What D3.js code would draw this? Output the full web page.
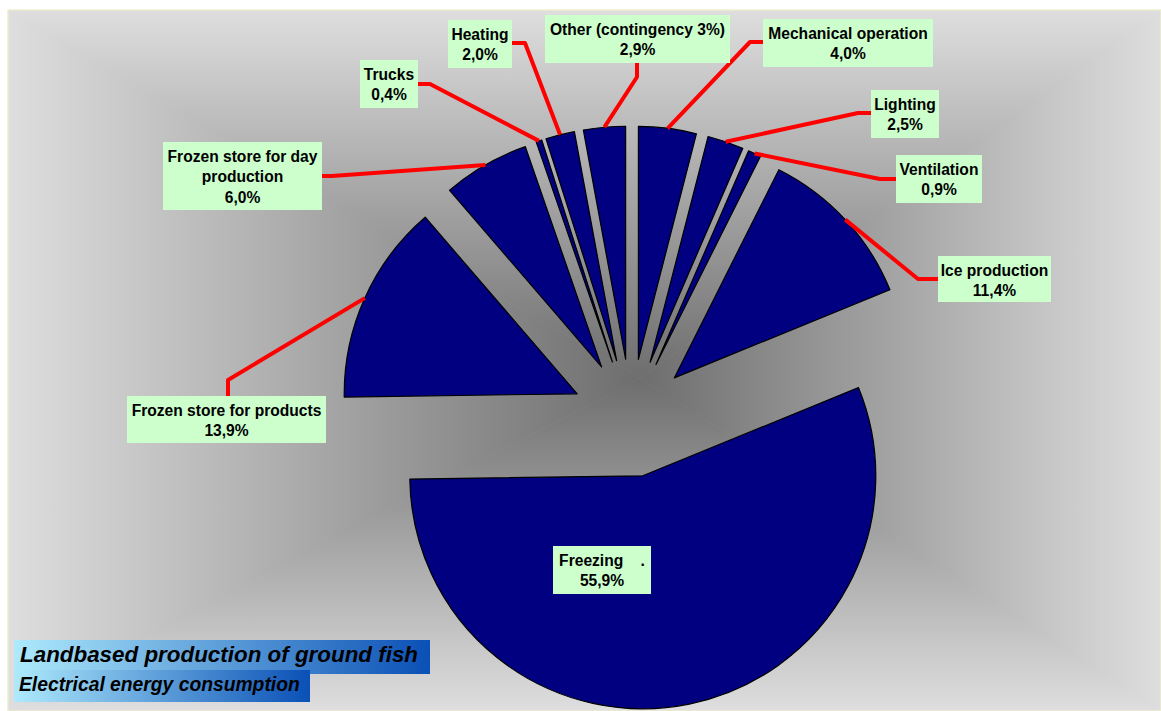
<!DOCTYPE html>
<html><head><meta charset="utf-8">
<script src="https://cdn.jsdelivr.net/npm/d3@7"></script>
<style>body{margin:0;background:#fff}svg{display:block}text{font-family:"Liberation Sans",Arial,sans-serif}</style>
</head><body><svg id="c" width="1161" height="711"></svg>
<script>
// ---- data ----
const categories = ["Mechanical operation","Lighting","Ventilation","Ice production","Freezing","Frozen store for products","Frozen store for day production","Trucks","Heating","Other (contingency 3%)"];
const values = [4.0, 2.5, 0.9, 11.4, 55.9, 13.9, 6.0, 0.4, 2.0, 2.9];
const titleMain = "Landbased production of ground fish";
const titleSub = "Electrical energy consumption";

// ---- layout ----
const svg = d3.select("#c");
const defs = svg.append("defs");
const plot = {x0: 8, y0: 10, x1: 1161, y1: 711};
const gc = [640, 378];
function lg(id, x1, y1, x2, y2, stops) {
  const g = defs.append("linearGradient").attr("id", id).attr("gradientUnits", "userSpaceOnUse")
    .attr("x1", x1).attr("y1", y1).attr("x2", x2).attr("y2", y2);
  stops.forEach(s => g.append("stop").attr("offset", s[0]).attr("stop-color", s[1]));
}
const bgStops = [[0, "#dedede"], [1, "#6e6e6e"]];
lg("gT", 0, plot.y0, 0, gc[1], bgStops);
lg("gB", 0, plot.y1, 0, gc[1], bgStops);
lg("gL", plot.x0, 0, gc[0], 0, bgStops);
lg("gR", plot.x1, 0, gc[0], 0, bgStops);
const tris = [
  ["gT", [[plot.x0, plot.y0], [plot.x1, plot.y0], gc]],
  ["gB", [[plot.x0, plot.y1], [plot.x1, plot.y1], gc]],
  ["gL", [[plot.x0, plot.y0], [plot.x0, plot.y1], gc]],
  ["gR", [[plot.x1, plot.y0], [plot.x1, plot.y1], gc]]
];
svg.append("g").selectAll("path").data(tris).join("path")
  .attr("d", d => "M" + d[1].map(p => p.join(",")).join("L") + "Z")
  .attr("fill", d => `url(#${d[0]})`).attr("stroke", d => `url(#${d[0]})`).attr("stroke-width", 0.8);
svg.append("rect").attr("x", plot.x0).attr("y", plot.y0).attr("width", plot.x1 - plot.x0).attr("height", plot.y1 - plot.y0)
  .attr("fill", "none").attr("stroke", "#f4f4c4").attr("stroke-width", 1);

// ---- pie ----
const cx = 631, cy = 418, R = 233, explode = 59;
const pieData = d3.pie().sort(null).value(d => d).startAngle(0).endAngle(2 * Math.PI)(values);
const arc = d3.arc().innerRadius(0).outerRadius(R);
const mid = d => (d.startAngle + d.endAngle) / 2;
const gp = svg.append("g").attr("transform", `translate(${cx},${cy})`);
gp.selectAll("path").data(pieData).join("path")
  .attr("transform", d => `translate(${explode * Math.sin(mid(d))},${-explode * Math.cos(mid(d))})`)
  .attr("d", arc).attr("fill", "#000080").attr("stroke", "#000").attr("stroke-width", 1.2)
  .attr("stroke-linejoin", "round");

// ---- labels ----
const labelLayout = [
  {box: [763, 19, 170, 48], elbow: [750, 42], end: [763, 42]},
  {box: [871, 90, 68, 48], elbow: [858, 113], end: [871, 113]},
  {box: [896, 155, 86, 48], elbow: [880, 179], end: [896, 179]},
  {box: [938, 256, 113, 46], elbow: [918, 279], end: [938, 279]},
  {box: [553, 546, 98, 48], name: "Freezing    ."},
  {box: [127, 396, 199, 47], elbow: [228, 380], end: [228, 396]},
  {box: [163, 142, 159, 68], elbow: [332, 176], end: [322, 176], name: ["Frozen store for day", "production"]},
  {box: [360, 60, 58, 48], elbow: [430, 84], end: [418, 84]},
  {box: [448, 20, 64, 48], elbow: [525, 43], end: [512, 43]},
  {box: [545, 15, 185, 48], elbow: [637, 77], end: [637, 63]}
];
const fmt = v => d3.format(".1f")(v).replace(".", ",") + "%";
const leaders = svg.append("g");
const boxes = svg.append("g");
pieData.forEach((d, i) => {
  const L = labelLayout[i];
  const m = mid(d);
  if (L.elbow) {
    const s = [cx + (R + explode) * Math.sin(m), cy - (R + explode) * Math.cos(m)];
    leaders.append("path").attr("d", d3.line()([s, L.elbow, L.end]))
      .attr("fill", "none").attr("stroke", "#ff0000").attr("stroke-width", 4).attr("stroke-linejoin", "round");
  }
  const [bx, by, bw, bh] = L.box;
  boxes.append("rect").attr("x", bx).attr("y", by).attr("width", bw).attr("height", bh).attr("fill", "#ccffcc");
  let lines = L.name ? (Array.isArray(L.name) ? L.name.slice() : [L.name]) : [categories[i]];
  lines.push(fmt(values[i]));
  const t = boxes.append("text").attr("text-anchor", "middle").attr("font-weight", "bold")
    .attr("font-size", 15.6).attr("fill", "#000").style("white-space", "pre");
  lines.forEach((ln, k) => t.append("tspan").attr("x", bx + bw / 2).attr("y", by + 19.5 + k * 20.5).text(ln));
});

// ---- title ----
const tg = defs.append("linearGradient").attr("id", "tg").attr("x1", 0).attr("x2", 1).attr("y1", 0).attr("y2", 0);
tg.append("stop").attr("offset", 0).attr("stop-color", "#aeeafc");
tg.append("stop").attr("offset", 1).attr("stop-color", "#0a50b6");
svg.append("rect").attr("x", 14).attr("y", 640).attr("width", 416).attr("height", 34).attr("fill", "url(#tg)");
svg.append("rect").attr("x", 14).attr("y", 670).attr("width", 296).attr("height", 32).attr("fill", "url(#tg)");
svg.append("text").attr("x", 20).attr("y", 662).attr("font-size", 22.4).attr("font-weight", "bold")
  .attr("font-style", "italic").attr("fill", "#000").text(titleMain);
svg.append("text").attr("x", 19).attr("y", 691).attr("font-size", 19.3).attr("font-weight", "bold")
  .attr("font-style", "italic").attr("fill", "#000").text(titleSub);
</script></body></html>
